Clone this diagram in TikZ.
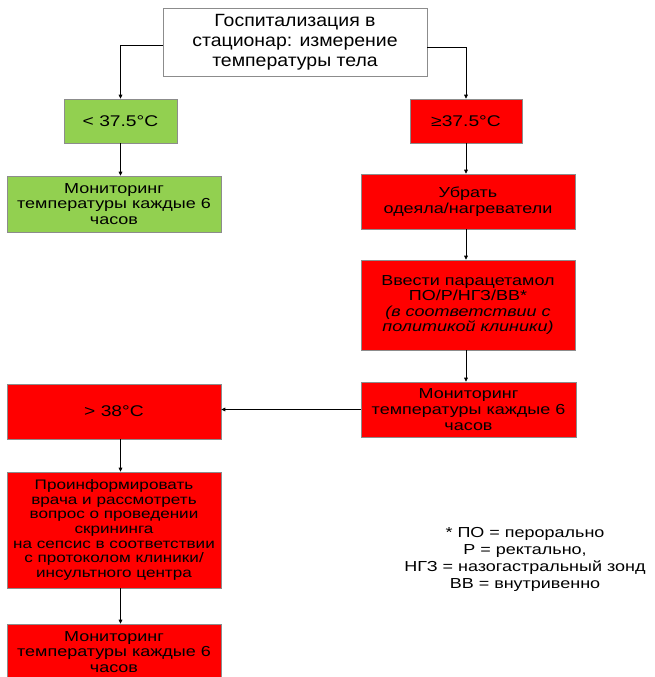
\documentclass[tikz,border=0pt]{standalone}
\usepackage{fontspec}
\setmainfont{Liberation Sans}[FakeStretch=1.24]
\newfontfamily\topfont{Liberation Sans}[FakeStretch=1.1]
\usetikzlibrary{arrows.meta,positioning}
\definecolor{boxgreen}{HTML}{92D050}
\definecolor{boxred}{HTML}{FF0000}
\definecolor{edgegray}{HTML}{8C8C8C}
\tikzset{
  box/.style={rectangle, draw=edgegray, line width=0.6pt, align=center, inner sep=1pt,
    font=\fontsize{14.5}{15.6}\selectfont},
  gbox/.style={box, fill=boxgreen},
  rbox/.style={box, fill=boxred},
  wbox/.style={box, fill=white, font=\topfont\fontsize{17.7}{20}\selectfont},
  bigtxt/.style={font=\fontsize{15.5}{17}\selectfont},
  arr/.style={draw=black, line width=0.7pt, -{Triangle[length=4pt,width=3.6pt]}},
}
\begin{document}
\begin{tikzpicture}[x=1pt,y=-1pt]
\useasboundingbox (0,0) rectangle (655,677);
\node[wbox, minimum width=264pt, minimum height=68pt] (top) at (295,42)
  {Госпитализация в\\стационар: измерение\\температуры тела};
\node[gbox, bigtxt, minimum width=113pt, minimum height=44pt] (g1) at (120.5,121) {< 37.5°C};
\node[gbox, minimum width=214pt, minimum height=56pt] (g2) at (114,204)
  {Мониторинг\\температуры каждые 6\\часов};
\node[rbox, bigtxt, minimum width=112pt, minimum height=44pt] (r1) at (466,121) {≥37.5°C};
\node[rbox, minimum width=214pt, minimum height=55pt] (r2) at (468,201.5)
  {Убрать\\одеяла/нагреватели};
\node[rbox, minimum width=214pt, minimum height=90pt] (r3) at (468,305)
  {Ввести парацетамол\\ПО/Р/НГЗ/ВВ*\\\textit{(в соответствии с}\\\textit{политикой клиники)}};
\node[rbox, minimum width=215pt, minimum height=55pt] (monR) at (468.5,409.5)
  {Мониторинг\\температуры каждые 6\\часов};
\node[rbox, bigtxt, minimum width=214pt, minimum height=55pt] (gt) at (114,411.5) {> 38°C};
\node[rbox, minimum width=214pt, minimum height=116pt, font=\fontsize{13.8}{14.6}\selectfont] (pi) at (114,530)
  {Проинформировать\\врача и рассмотреть\\вопрос о проведении\\скрининга\\на сепсис в соответствии\\с протоколом клиники/\\инсультного центра};
\node[align=center, inner sep=0pt, font=\fontsize{14.5}{17}\selectfont] (note) at (525,559)
  {* ПО = перорально\\Р = ректально,\\НГЗ = назогастральный зонд\\ВВ = внутривенно};
\node[rbox, minimum width=214pt, minimum height=56pt] (last) at (114,652)
  {Мониторинг\\температуры каждые 6\\часов};
\coordinate (lx) at (120.5,0);
\coordinate (rx) at (466,0);
\draw[arr] ([yshift=-3pt]top.west) -| (g1.north);
\draw[arr] ([yshift=-5pt]top.east) -| (r1.north);
\draw[arr] (g1.south) -- (g1.south |- g2.north);
\draw[arr] (r1.south) -- (r1.south |- r2.north);
\draw[arr] (r2.south -| rx) -- (r3.north -| rx);
\draw[arr] (r3.south -| rx) -- (monR.north -| rx);
\draw[arr] (monR.west) -- (monR.west -| gt.east);
\draw[arr] (gt.south -| lx) -- (pi.north -| lx);
\draw[arr] (pi.south -| lx) -- (last.north -| lx);
\end{tikzpicture}
\end{document}
